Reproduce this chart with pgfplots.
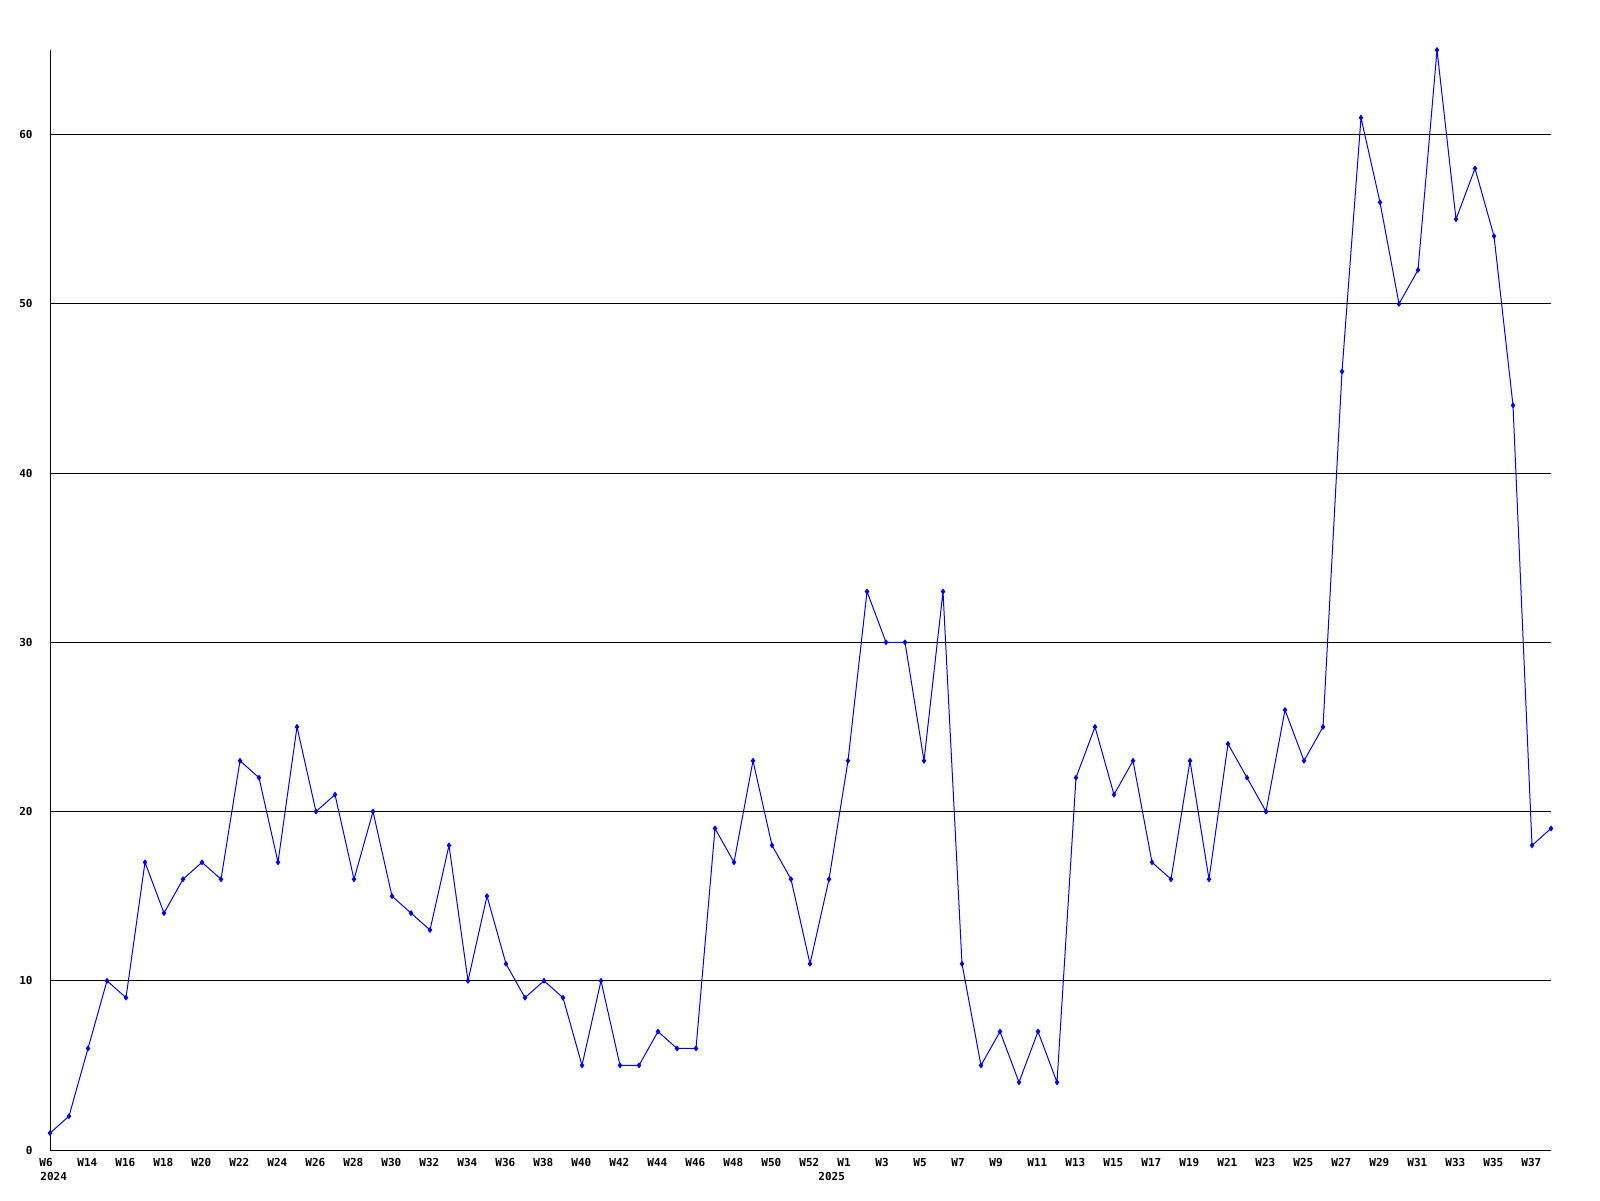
\documentclass[border=0pt]{standalone}
\usepackage{pgfplots}
\pgfplotsset{compat=1.18}
\usepackage{fontspec}
\setmonofont{DejaVu Sans Mono}
\definecolor{lineblue}{RGB}{0,0,255}

\begin{document}
\begin{tikzpicture}
% page = 1600x1200 px at 0.5pt per px
\path[use as bounding box] (-25pt,-25pt) rectangle (775pt,575pt);
\begin{axis}[
  scale only axis,
  width=750.5pt,height=550pt,
  xmin=0,xmax=79,ymin=0,ymax=65,
  axis x line*=bottom,axis y line*=left,
  axis line style={-,black,line width=0.5pt},
  major tick length=0pt,
  ytick={0,10,20,30,40,50,60},
  ymajorgrids,
  grid style={black,line width=0.5pt},
  xtick={0,2,4,6,8,10,12,14,16,18,20,22,24,26,28,30,32,34,36,38,40,
         42,44,46,48,50,52,54,56,58,60,62,64,66,68,70,72,74,76,78},
  xticklabels={W6,W14,W16,W18,W20,W22,W24,W26,W28,W30,W32,W34,W36,W38,W40,W42,W44,W46,W48,W50,W52,
               W1,W3,W5,W7,W9,W11,W13,W15,W17,W19,W21,W23,W25,W27,W29,W31,W33,W35,W37},
  /pgf/number format/assume math mode=true,
  ticklabel style={font=\ttfamily\bfseries\fontsize{5.5}{6}\selectfont},
  xticklabel style={anchor=north west,inner sep=0pt,xshift=-5.5pt,yshift=-4pt},
  yticklabel style={anchor=east,inner sep=0pt,xshift=-8.5pt},
  clip=false,
]
\addplot[lineblue,line width=0.5pt,mark=diamond*,mark size=1.1pt] coordinates {
  (0,1)(1,2)(2,6)(3,10)(4,9)(5,17)(6,14)(7,16)(8,17)(9,16)
  (10,23)(11,22)(12,17)(13,25)(14,20)(15,21)(16,16)(17,20)(18,15)(19,14)
  (20,13)(21,18)(22,10)(23,15)(24,11)(25,9)(26,10)(27,9)(28,5)(29,10)
  (30,5)(31,5)(32,7)(33,6)(34,6)(35,19)(36,17)(37,23)(38,18)(39,16)
  (40,11)(41,16)(42,23)(43,33)(44,30)(45,30)(46,23)(47,33)(48,11)(49,5)
  (50,7)(51,4)(52,7)(53,4)(54,22)(55,25)(56,21)(57,23)(58,17)(59,16)
  (60,23)(61,16)(62,24)(63,22)(64,20)(65,26)(66,23)(67,25)(68,46)(69,61)
  (70,56)(71,50)(72,52)(73,65)(74,55)(75,58)(76,54)(77,44)(78,18)(79,19)
};
\node[anchor=north west,font=\ttfamily\bfseries\fontsize{5.5}{6}\selectfont,inner sep=0pt]
  at (axis cs:0,0) [xshift=-5pt,yshift=-11pt] {2024};
\node[anchor=north west,font=\ttfamily\bfseries\fontsize{5.5}{6}\selectfont,inner sep=0pt]
  at (axis cs:42,0) [xshift=-15pt,yshift=-11pt] {2025};
\end{axis}
\end{tikzpicture}
\end{document}
